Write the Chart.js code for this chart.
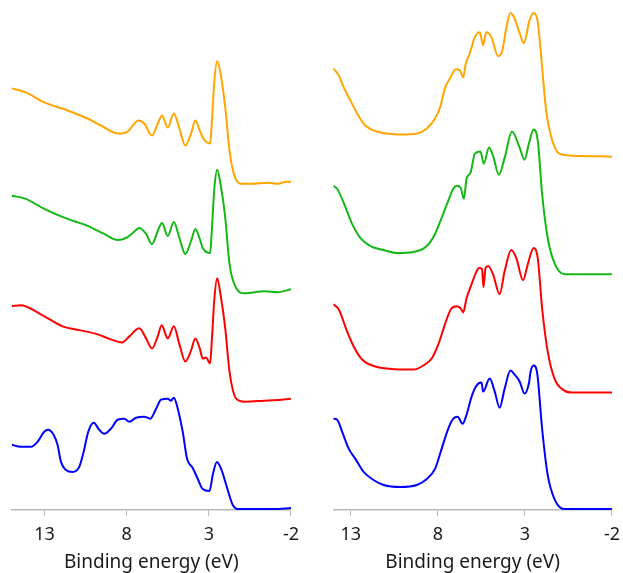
<!DOCTYPE html>
<html>
<head>
<meta charset="utf-8">
<script src="https://cdn.jsdelivr.net/npm/chart.js@4"></script>
<style>
  html, body { margin: 0; padding: 0; background: #fff; overflow: hidden; width: 623px; height: 573px; }
  canvas { position: absolute; top: 0; }
  #left-chart { left: 0; }
  #right-chart { left: 318px; }
</style>
</head>
<body>
<canvas id="left-chart" width="307" height="590"></canvas>
<canvas id="right-chart" width="310" height="590"></canvas>
<script>
// Tick labels on the binding energy axis
const energyTicks = [13, 8, 3, -2];

// Left panel (energy in eV, intensity in stacked arb. units)
const leftOrangeE = [15, 14.14, 13.02, 11.6, 10.38, 9.57, 8.51, 7.94, 7.29, 6.93, 6.46, 6.11, 5.85, 5.5, 5.13, 4.79, 4.43, 4.08, 3.82, 3.55, 3.37, 2.92, 2.82, 2.66, 2.49, 2.29, 2.0, 1.74, 1.44, 1.03, 0.42, -0.6, -1.21, -1.71, -2];
const leftOrange = [420, 416, 406, 398, 390, 383, 375, 377, 388, 385, 373, 385, 393, 381, 395, 380, 363, 375, 388, 378, 371, 365, 385, 428, 447, 435, 401, 358, 333, 325, 325, 326, 325, 327, 327];

const leftGreenE = [15, 14.14, 13.02, 11.6, 10.38, 9.37, 8.55, 8.04, 7.63, 7.23, 6.82, 6.46, 6.11, 5.85, 5.5, 5.13, 4.79, 4.43, 4.08, 3.82, 3.55, 3.37, 2.92, 2.82, 2.66, 2.49, 2.29, 2.0, 1.74, 1.33, 0.83, -0.39, -1.21, -2];
const leftGreen = [313, 310, 300, 290, 283, 275, 269, 271, 276, 281, 275, 265, 278, 286, 273, 287, 271, 255, 268, 280, 270, 261, 256, 278, 321, 339, 325, 291, 245, 221, 216, 218, 217, 220];

const leftRedE = [15, 14.45, 13.23, 11.9, 10.79, 9.77, 8.96, 8.3, 7.84, 7.23, 6.82, 6.46, 6.11, 5.87, 5.5, 5.13, 4.79, 4.43, 4.08, 3.82, 3.55, 3.37, 3.17, 2.92, 2.82, 2.66, 2.49, 2.29, 2.0, 1.74, 1.33, 0.83, -0.39, -1.41, -2];
const leftRed = [203, 204, 195, 183, 179, 175, 170, 167, 173, 181, 171, 161, 173, 184, 171, 183, 165, 148, 159, 171, 161, 151, 152, 146, 168, 211, 231, 215, 181, 138, 111, 108, 109, 110, 111];

const leftBlueE = [15, 14.45, 13.84, 13.43, 13.02, 12.78, 12.45, 12.21, 12.0, 11.7, 11.29, 10.89, 10.62, 10.34, 10.01, 9.67, 9.37, 8.96, 8.55, 8.15, 7.84, 7.43, 6.93, 6.56, 6.21, 5.91, 5.5, 5.3, 5.13, 4.89, 4.59, 4.32, 3.98, 3.67, 3.37, 2.96, 2.76, 2.51, 2.25, 1.94, 1.54, 1.23, 0.22, -1.0, -2];
const leftBlue = [65, 63, 63, 68, 78, 80, 75, 65, 48, 40, 38, 43, 58, 78, 87, 80, 76, 81, 90, 91, 88, 92, 93, 91, 101, 110, 111, 109, 112, 101, 78, 51, 42, 31, 21, 19, 35, 48, 41, 25, 5, 1, 1, 1, 2];

// Right panel
const rightOrangeE = [14, 13.69, 13.4, 13.02, 12.63, 12.16, 11.49, 10.92, 10.16, 9.21, 8.63, 8.16, 7.87, 7.59, 7.3, 6.96, 6.73, 6.54, 6.39, 6.16, 5.87, 5.59, 5.4, 5.21, 4.92, 4.54, 4.29, 4.06, 3.83, 3.63, 3.3, 3.06, 2.73, 2.49, 2.26, 2.01, 1.78, 1.43, 1.02, 0.26, -2];
const rightOrange = [440, 433, 421, 408, 395, 383, 377, 375, 374, 375, 380, 390, 401, 420, 430, 439, 438, 431, 445, 455, 471, 476, 463, 476, 471, 452, 458, 481, 495, 491, 475, 465, 488, 495, 486, 441, 398, 368, 355, 353, 352];

const rightGreenE = [14, 13.78, 13.4, 12.92, 12.45, 11.87, 11.11, 10.35, 9.4, 8.63, 8.16, 7.78, 7.4, 7.11, 6.92, 6.69, 6.5, 6.35, 6.12, 5.87, 5.55, 5.36, 5.06, 4.83, 4.49, 4.16, 3.74, 3.3, 3.02, 2.77, 2.5, 2.26, 2.01, 1.69, 1.3, 0.73, 0.26, -2];
const rightGreen = [323, 320, 306, 285, 271, 263, 259, 256, 257, 263, 275, 291, 308, 320, 323, 321, 310, 330, 336, 355, 357, 345, 361, 353, 334, 351, 377, 361, 349, 365, 379, 368, 315, 271, 246, 235, 235, 235];

const rightRedE = [14, 13.69, 13.21, 12.83, 12.35, 11.59, 10.92, 10.16, 9.4, 8.83, 8.35, 7.97, 7.59, 7.25, 6.92, 6.69, 6.54, 6.35, 6.06, 5.82, 5.63, 5.46, 5.38, 5.26, 5.11, 4.83, 4.45, 4.16, 3.78, 3.49, 3.11, 2.83, 2.5, 2.26, 2.01, 1.69, 1.3, 0.73, 0.26, -2];
const rightRed = [205, 200, 178, 163, 150, 143, 141, 140, 140, 144, 151, 165, 185, 200, 203, 201, 197, 211, 225, 236, 241, 240, 222, 241, 243, 235, 215, 238, 259, 251, 229, 245, 261, 251, 201, 158, 131, 119, 117, 117];

const rightBlueE = [14, 13.78, 13.49, 13.11, 12.73, 12.26, 11.69, 11.11, 10.16, 9.21, 8.63, 8.16, 7.78, 7.4, 7.11, 6.86, 6.58, 6.35, 6.06, 5.78, 5.49, 5.4, 5.02, 4.73, 4.45, 4.16, 3.83, 3.59, 3.3, 3.02, 2.77, 2.67, 2.5, 2.29, 2.01, 1.69, 1.3, 0.73, -2];
const rightBlue = [91, 90, 78, 61, 51, 38, 30, 25, 23, 25, 31, 41, 61, 81, 91, 93, 86, 95, 113, 124, 127, 118, 131, 118, 102, 121, 139, 135, 128, 116, 126, 138, 144, 136, 81, 35, 11, 1, 1];

const colors = { orange: '#ffa500', green: '#14b814', red: '#ff0000', blue: '#0000ff' };

const toPoints = (xs, ys) => xs.map((x, i) => ({ x: x, y: ys[i] }));

const makeDataset = (xs, ys, color) => ({
    data: toPoints(xs, ys),
    borderColor: color,
    borderWidth: 2,
    pointRadius: 0,
    fill: false,
    cubicInterpolationMode: 'monotone'
});

const createPanel = (id, xMax, padLeft, sets) => {
    const ctx = document.getElementById(id).getContext('2d');
    return new Chart(ctx, {
        type: 'line',
        data: { datasets: sets },
        options: {
            responsive: false,
            animation: false,
            devicePixelRatio: 1,
            layout: { padding: { left: padLeft, right: 0, top: 0, bottom: 16 } },
            plugins: { legend: { display: false }, tooltip: { enabled: false } },
            scales: {
                x: {
                    type: 'linear',
                    reverse: true,
                    min: -2,
                    max: xMax,
                    afterBuildTicks: (axis) => { axis.ticks = energyTicks.map(v => ({ value: v })); },
                    ticks: {
                        padding: 8,
                        color: '#1a1a1a',
                        font: { family: 'Noto Sans', size: 18 },
                        callback: (v) => String(v)
                    },
                    grid: { drawOnChartArea: false, drawTicks: true, tickLength: 6, color: '#b8b8b8' },
                    border: { display: true, color: '#b8b8b8', width: 1.5 },
                    title: {
                        display: true,
                        text: 'Binding energy (eV)',
                        color: '#1a1a1a',
                        font: { family: 'Noto Sans', size: 19 },
                        padding: { top: -2.5, bottom: 0 }
                    }
                },
                y: { display: false, min: 0, max: 508 }
            }
        }
    });
};

createPanel('left-chart', 15, 11.7, [
    makeDataset(leftOrangeE, leftOrange, colors.orange),
    makeDataset(leftGreenE, leftGreen, colors.green),
    makeDataset(leftRedE, leftRed, colors.red),
    makeDataset(leftBlueE, leftBlue, colors.blue)
]);

createPanel('right-chart', 14, 15.3, [
    makeDataset(rightOrangeE, rightOrange, colors.orange),
    makeDataset(rightGreenE, rightGreen, colors.green),
    makeDataset(rightRedE, rightRed, colors.red),
    makeDataset(rightBlueE, rightBlue, colors.blue)
]);
</script>
</body>
</html>
